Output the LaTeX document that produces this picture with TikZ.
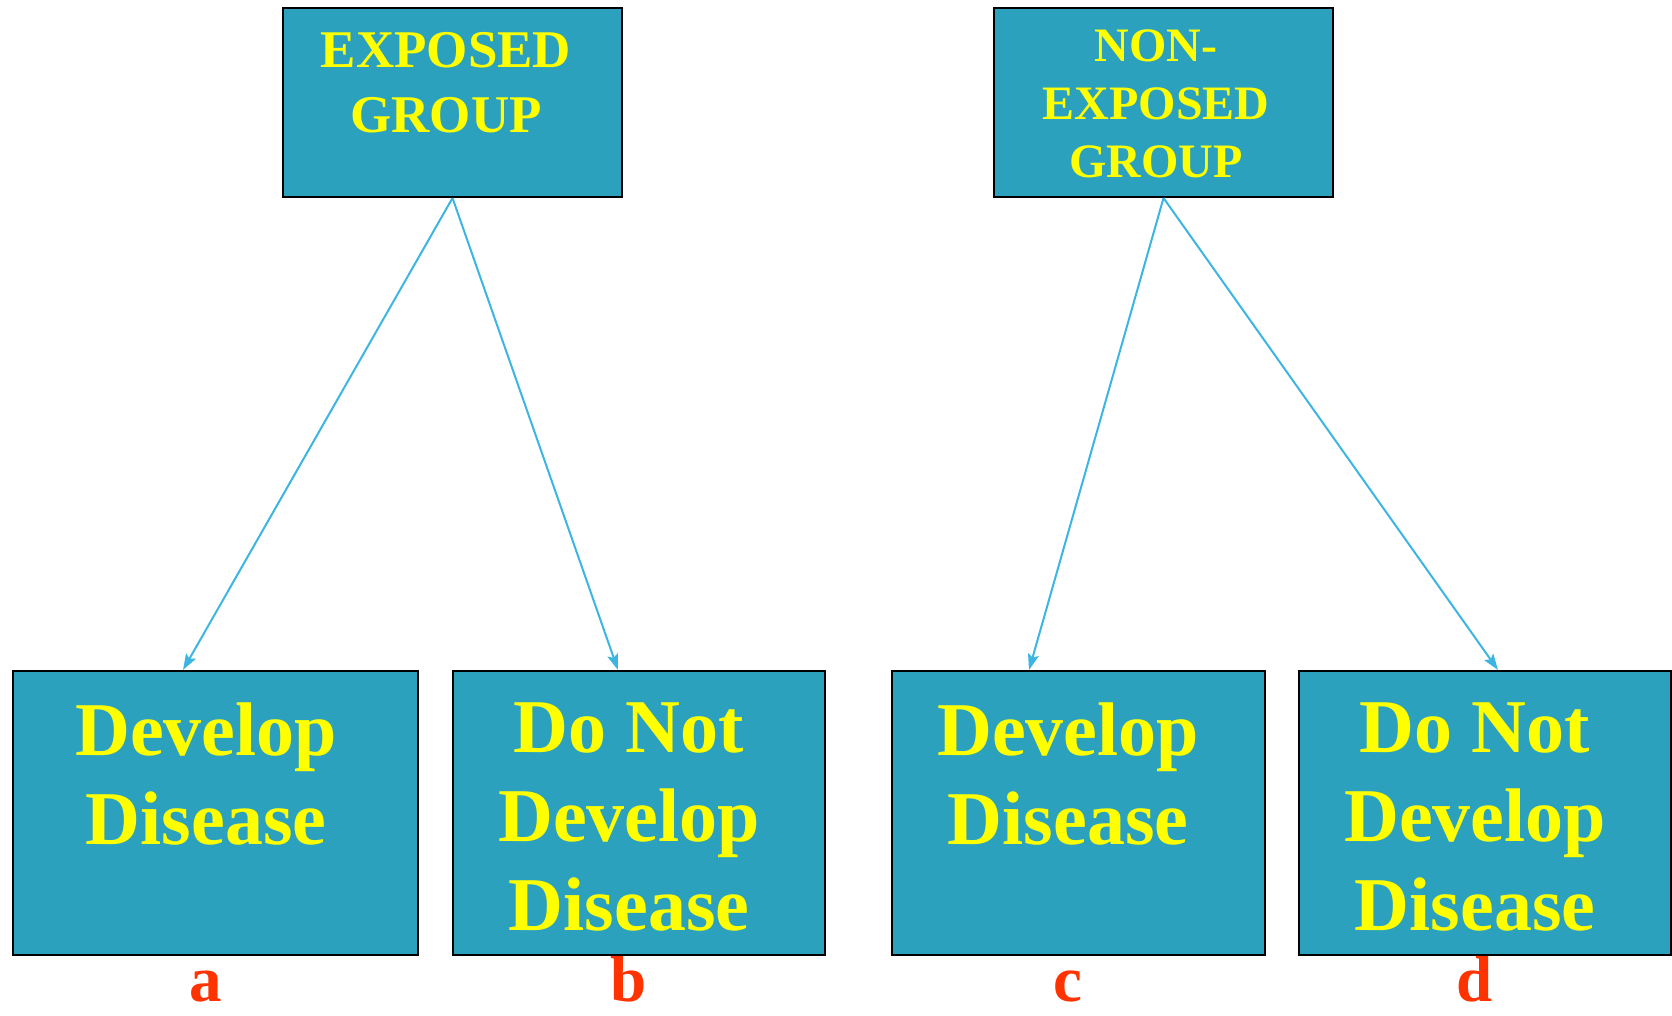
\documentclass[tikz,border=0pt]{standalone}
\usepackage{fontspec}
\setmainfont{Liberation Serif}
\usetikzlibrary{arrows.meta}
\definecolor{boxfill}{HTML}{2CA1BE}
\definecolor{txtyel}{HTML}{FFFF00}
\definecolor{lblred}{HTML}{FF3300}
\definecolor{arrowblue}{HTML}{3DB5E3}
\tikzset{
  groupbox/.style={draw=black, line width=2pt, fill=boxfill, inner sep=0pt, anchor=north west},
  boxtext/.style={text=txtyel, align=center, inner sep=0pt, anchor=north},
  toptext/.style={boxtext, font=\bfseries\fontsize{53}{65}\selectfont},
  toptextsmall/.style={boxtext, font=\bfseries\fontsize{48}{58}\selectfont},
  outtext/.style={boxtext, font=\bfseries\fontsize{76}{89}\selectfont},
  cell/.style={text=lblred, inner sep=0pt, anchor=base, font=\bfseries\fontsize{65}{70}\selectfont},
  link/.style={draw=arrowblue, line width=2pt, -{Stealth[length=16pt, width=11pt, inset=3pt]}}
}
\begin{document}
\begin{tikzpicture}[x=1pt, y=-1pt]
\useasboundingbox (0,0) rectangle (1672,1015);

% group boxes
\node[groupbox, minimum width=339pt, minimum height=189pt] (exp) at (282,7) {};
\node[groupbox, minimum width=339pt, minimum height=189pt] (nonexp) at (993,7) {};
\node[toptext] (exptxt) at (446,32) {EXPOSED\\GROUP};
\node[toptextsmall] (nonexptxt) at (1156,30) {NON-\\EXPOSED\\GROUP};

% outcome boxes
\node[groupbox, minimum width=405pt, minimum height=284pt] (a) at (12,670) {};
\node[groupbox, minimum width=372pt, minimum height=284pt] (b) at (452,670) {};
\node[groupbox, minimum width=373pt, minimum height=284pt] (c) at (891,670) {};
\node[groupbox, minimum width=372pt, minimum height=284pt] (d) at (1298,670) {};
\node[outtext] (atxt) at (206,703) {Develop\\Disease};
\node[outtext] (btxt) at (629,703) {Do Not\\Develop\\Disease};
\node[outtext] (ctxt) at (1068,703) {Develop\\Disease};
\node[outtext] (dtxt) at (1475,703) {Do Not\\Develop\\Disease};

% cell letters
\node[cell] (la) at (206,1001) {a};
\node[cell] (lb) at (629,1001) {b};
\node[cell] (lc) at (1068,1001) {c};
\node[cell] (ld) at (1475,1001) {d};

% connectors
\draw[link] (exp.south) -- ([xshift=171pt]a.north west);
\draw[link] (exp.south) -- ([xshift=166pt]b.north west);
\draw[link] (nonexp.south) -- ([xshift=138pt]c.north west);
\draw[link] (nonexp.south) -- ([xshift=200pt]d.north west);
\end{tikzpicture}
\end{document}
